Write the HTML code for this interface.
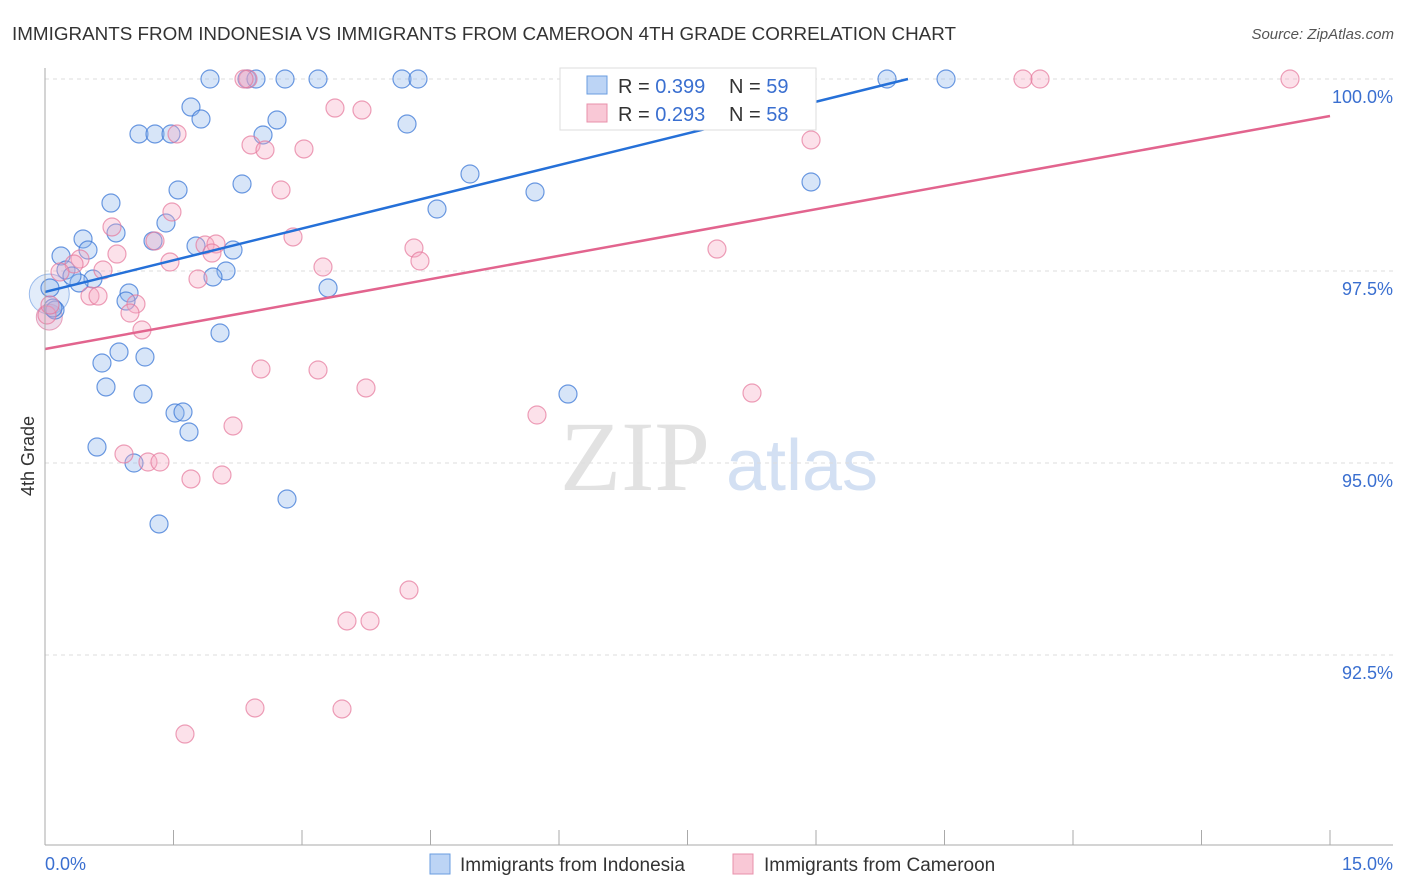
<!DOCTYPE html>
<html><head><meta charset="utf-8"><style>
body{margin:0;background:#fff;font-family:"Liberation Sans",sans-serif}
svg{display:block}
</style></head><body>
<svg id="c" width="1406" height="892" xmlns="http://www.w3.org/2000/svg">
<text x="12" y="40" font-size="18" fill="#333" textLength="944" lengthAdjust="spacingAndGlyphs">IMMIGRANTS FROM INDONESIA VS IMMIGRANTS FROM CAMEROON 4TH GRADE CORRELATION CHART</text>
<text x="1394" y="39" font-size="15" fill="#555" font-style="italic" text-anchor="end">Source: ZipAtlas.com</text>
<text x="34" y="456" font-size="18" fill="#333" text-anchor="middle" transform="rotate(-90 34 456)">4th Grade</text>
<text x="635" y="490" font-size="100" fill="#e2e2e2" font-family="Liberation Serif,serif" text-anchor="middle">ZIP</text>
<text x="802" y="490" font-size="72" fill="#d3e0f3" text-anchor="middle">atlas</text>
<g id="grid"></g><g id="pts"></g><g id="lines"></g>
<line x1="45" y1="68" x2="45" y2="845" stroke="#aaa"/>
<line x1="45" y1="845" x2="1393" y2="845" stroke="#aaa"/>
<text x="45" y="870" font-size="18" fill="#3a6fd0">0.0%</text>
<text x="1393" y="870" font-size="18" fill="#3a6fd0" text-anchor="end">15.0%</text>
<g>
<rect x="560" y="68" width="256" height="62" fill="#fff" stroke="#ddd"/>
<rect x="587" y="76" width="20" height="18" fill="#bcd4f5" stroke="#6a9de0"/>
<rect x="587" y="104" width="20" height="18" fill="#f9c8d6" stroke="#e890ab"/>
<text x="618" y="93" font-size="20" fill="#333">R = <tspan fill="#3a6fd0">0.399</tspan></text>
<text x="729" y="93" font-size="20" fill="#333">N = <tspan fill="#3a6fd0">59</tspan></text>
<text x="618" y="121" font-size="20" fill="#333">R = <tspan fill="#3a6fd0">0.293</tspan></text>
<text x="729" y="121" font-size="20" fill="#333">N = <tspan fill="#3a6fd0">58</tspan></text>
</g>
<g>
<rect x="430" y="854" width="20" height="20" fill="#bcd4f5" stroke="#6a9de0"/>
<text x="460" y="871" font-size="19" fill="#333">Immigrants from Indonesia</text>
<rect x="733" y="854" width="20" height="20" fill="#f9c8d6" stroke="#e890ab"/>
<text x="764" y="871" font-size="19" fill="#333">Immigrants from Cameroon</text>
</g>
</svg>
<script>
const yTicks=[100,97.5,95,92.5];
const yTickLabels=["100.0%","97.5%","95.0%","92.5%"];
const xTicks=[0,1.5,3,4.5,6,7.5,9,10.5,12,13.5,15];
const bluePx=[[210,79],[247,79],[256,79],[285,79],[318,79],[402,79],[418,79],[887,79],[946,79],[191,107],[201,119],[407,124],[139,134],[155,134],[171,134],[263,135],[277,120],[470,174],[535,192],[811,182],[178,190],[242,184],[437,209],[111,203],[166,223],[116,233],[83,239],[153,241],[196,246],[233,250],[61,256],[88,250],[66,270],[93,279],[79,283],[72,276],[226,271],[213,277],[129,293],[126,301],[328,288],[220,333],[50,288],[55,310],[53,308],[119,352],[102,363],[145,357],[106,387],[143,394],[568,394],[175,413],[183,412],[189,432],[97,447],[134,463],[287,499],[159,524]];
const pinkPx=[[248,79],[244,79],[778,79],[1023,79],[1040,79],[1290,79],[335,108],[362,110],[177,134],[811,140],[251,145],[265,150],[304,149],[281,190],[172,212],[112,227],[155,241],[117,254],[205,245],[216,244],[212,253],[293,237],[414,248],[420,261],[717,249],[170,262],[80,259],[74,264],[103,270],[323,267],[198,279],[60,272],[90,296],[98,296],[136,304],[130,313],[142,330],[47,315],[50,305],[261,369],[318,370],[366,388],[752,393],[537,415],[233,426],[124,454],[148,462],[160,462],[191,479],[222,475],[409,590],[347,621],[370,621],[255,708],[342,709],[185,734]];
const blueX=bluePx.map(p=>+((p[0]-45)/1285*15).toFixed(3));
const blueY=bluePx.map(p=>+(100-(p[1]-79)/76.8).toFixed(3));
const pinkX=pinkPx.map(p=>+((p[0]-45)/1285*15).toFixed(3));
const pinkY=pinkPx.map(p=>+(100-(p[1]-79)/76.8).toFixed(3));
const blueTrend=[[0,97.227],[10.074,100]];
const pinkTrend=[[0,96.484],[15,99.518]];
const xs=v=>45+v/15*1285, ys=v=>79+(100-v)*76.8;
const NS="http://www.w3.org/2000/svg";
function mk(t,a,p){const e=document.createElementNS(NS,t);for(const k in a)e.setAttribute(k,a[k]);p.appendChild(e);return e;}
const g=document.getElementById('grid');
yTicks.forEach((v,i)=>{
 const l=mk('line',{x1:45,x2:1393,y1:ys(v),y2:ys(v),stroke:'#ddd','stroke-dasharray':'4 4'},g);
 
 
 const t=mk('text',{x:1393,y:ys(v)+24,'font-size':18,fill:'#3a6fd0','text-anchor':'end'},g);
 t.textContent=yTickLabels[i];
 
 
});
xTicks.forEach(v=>{
 const l=mk('line',{x1:xs(v),x2:xs(v),y1:830,y2:845,stroke:'#aaa'},g);
 
 
});
const P=document.getElementById('pts');
const big1=mk('circle',{cx:xs(0.05),cy:ys(97.2),r:20,fill:'rgba(140,180,235,0.25)',stroke:'rgba(70,130,220,0.5)'},P);


const big2=mk('circle',{cx:xs(0.05),cy:ys(96.9),r:13,fill:'rgba(200,130,180,0.3)',stroke:'rgba(220,110,150,0.6)'},P);


blueX.forEach((x,i)=>{
 const c=mk('circle',{cx:xs(x),cy:ys(blueY[i]),r:9,fill:'rgba(140,180,235,0.35)',stroke:'rgba(60,120,215,0.75)','stroke-width':1.2},P);
 
 
});
pinkX.forEach((x,i)=>{
 const c=mk('circle',{cx:xs(x),cy:ys(pinkY[i]),r:9,fill:'rgba(245,170,195,0.35)',stroke:'rgba(230,120,155,0.7)','stroke-width':1.2},P);
 
 
});
const L=document.getElementById('lines');
const bl=mk('line',{x1:xs(blueTrend[0][0]),y1:ys(blueTrend[0][1]),x2:xs(blueTrend[1][0]),y2:ys(blueTrend[1][1]),stroke:'#2570d8','stroke-width':2.5},L);


const pl=mk('line',{x1:xs(pinkTrend[0][0]),y1:ys(pinkTrend[0][1]),x2:xs(pinkTrend[1][0]),y2:ys(pinkTrend[1][1]),stroke:'#e2648e','stroke-width':2.5},L);


</script>
</body></html>
